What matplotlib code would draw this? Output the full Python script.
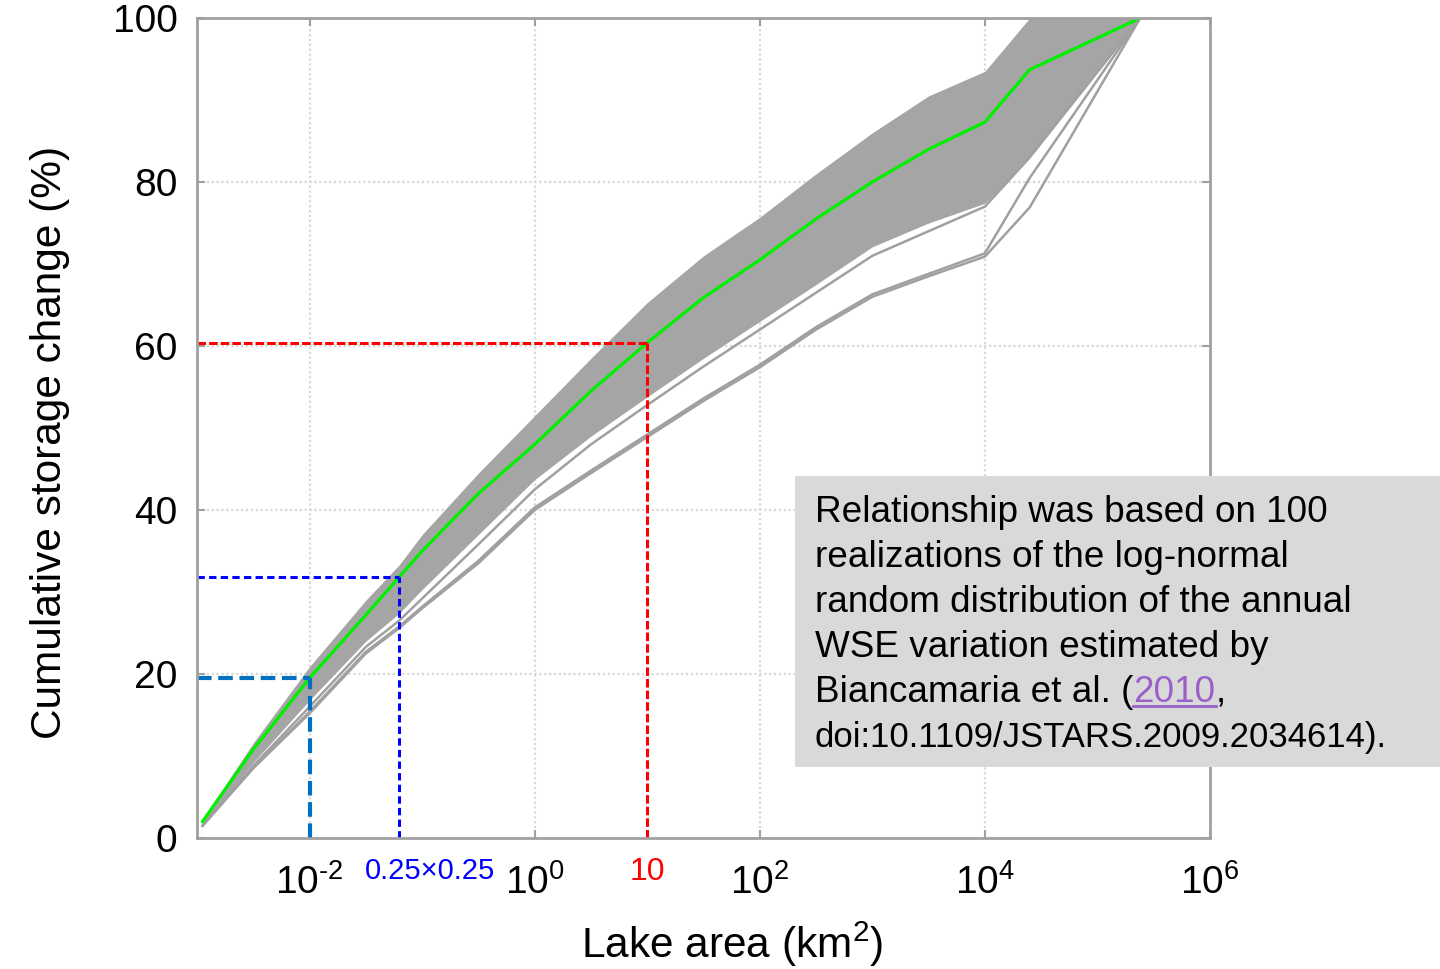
import matplotlib
matplotlib.use('Agg')
import matplotlib.pyplot as plt
from matplotlib.patches import Rectangle
from matplotlib.lines import Line2D
from matplotlib.transforms import ScaledTranslation

plt.rcParams['font.family'] = ['Liberation Sans', 'DejaVu Sans']
plt.rcParams['mathtext.fontset'] = 'custom'
plt.rcParams['mathtext.rm'] = 'Liberation Sans'
plt.rcParams['mathtext.it'] = 'Liberation Sans:italic'
plt.rcParams['mathtext.bf'] = 'Liberation Sans:bold'

# ---------------- data ----------------
lake_area = [1.12e-3, 3.16e-3, 1e-2, 3.16e-2, 6.25e-2, 0.1, 0.316, 1, 3.16, 10,
             31.6, 100, 316, 1000, 3160, 1e4, 2.5e4, 2.4e5]
median_pct = [2.0, 10.8, 19.5, 27.2, 31.8, 35.0, 42.0, 48.0, 54.5, 60.4,
              65.9, 70.5, 75.5, 80.0, 84.0, 87.3, 93.7, 100]
band_upper = [2.3, 11.6, 20.9, 29.0, 33.3, 37.0, 44.5, 51.5, 58.5, 65.3,
              71.0, 75.7, 81.0, 86.0, 90.5, 93.5, 100, 100]
band_lower = [1.6, 9.2, 16.8, 24.0, 27.4, 30.3, 37.0, 43.7, 49.0, 53.8,
              58.5, 63.0, 67.5, 72.1, 75.0, 77.4, 83.0, 100]
outlier_low = [1.5, 8.5, 15.2, 22.5, 25.6, 28.0, 33.5, 40.0, 44.5, 48.9,
               53.3, 57.4, 62.0, 66.0, 68.5, 70.9, 76.9, 100]
outlier_alt = [1.5, 8.6, 15.4, 22.7, 25.8, 28.2, 33.8, 40.3, 44.8, 49.2,
               53.6, 57.7, 62.3, 66.3, 68.8, 71.3, 80.5, 100]
outlier_mid = [1.5, 8.8, 16.0, 23.3, 26.5, 29.2, 35.8, 42.5, 48.0, 52.8,
               57.5, 62.0, 66.5, 71.0, 74.0, 77.0, 83.0, 100]

marker_area = [0.01, 0.0625, 10]
marker_pct = [19.5, 31.8, 60.4]
marker_colors = ['#0070c0', '#0000ff', '#ff0000']

major_xticks = [1e-2, 1, 1e2, 1e4, 1e6]
major_xlabels = ['$\\mathregular{10^{\u2010' + '2}}$', '$\\mathregular{10^{0}}$',
                 '$\\mathregular{10^{2}}$', '$\\mathregular{10^{4}}$',
                 '$\\mathregular{10^{6}}$']
minor_xticks = [0.0625, 10]
minor_xlabels = ['0.25\u00d70.25', '10']
minor_label_colors = ['#0000ff', '#ff0000']
yticks = [0, 20, 40, 60, 80, 100]
grid_x = [1e-2, 1, 1e2, 1e4]
grid_y = [20, 40, 60, 80]

# ---------------- figure ----------------
fig = plt.figure(figsize=(14.4, 9.69), dpi=100)
ax = fig.add_axes([197/1440, 1 - 838/969, (1210 - 197)/1440, (838 - 18)/969])
ax.set_xscale('log')
ax.set_xlim(1e-3, 1e6)
ax.set_ylim(0, 100)

grid_kw = dict(color='#d8d8d8', lw=1.6, ls=(0, (1, 1.2)), zorder=0)
for gx in grid_x:
    ax.axvline(gx, **grid_kw)
for gy in grid_y:
    ax.axhline(gy, **grid_kw)

band_col = '#a5a5a5'
ax.fill_between(lake_area, band_lower, band_upper, color=band_col, lw=0, zorder=2)
for series in (outlier_low, outlier_alt, outlier_mid):
    ax.plot(lake_area, series, color='#a0a0a0', lw=1.8, zorder=2)
ax.plot(lake_area, median_pct, color='#00f000', lw=2.3, zorder=4)

dash_styles = [(0, (3.5, 1.6)), (0, (2.4, 1.4)), (0, (2.8, 1.0))]
dash_widths = [3.0, 2.2, 2.2]
for mx, my, mc, ds, dw in zip(marker_area, marker_pct, marker_colors, dash_styles, dash_widths):
    ax.plot([1e-3, mx], [my, my], color=mc, lw=dw, ls=ds, zorder=5)
    ax.plot([mx, mx], [0, my], color=mc, lw=dw, ls=ds, zorder=5)

frame_col = '#a0a0a0'
for sp in ax.spines.values():
    sp.set_color(frame_col)
    sp.set_linewidth(2.0)
    sp.set_zorder(6)

ax.set_xticks(major_xticks)
ax.set_xticklabels(major_xlabels)
ax.set_xticks(minor_xticks, minor=True)
ax.set_xticklabels(minor_xlabels, minor=True)
ax.set_yticks(yticks)
ax.set_yticklabels([str(v) for v in yticks])

ax.tick_params(axis='both', which='major', direction='in', length=6, width=1.5,
               color=frame_col, labelcolor='black', top=True, right=True,
               labelsize=28)
ax.tick_params(axis='x', which='major', pad=19)
ax.tick_params(axis='y', which='major', pad=14)
ax.tick_params(axis='x', which='minor', length=0, pad=14, labelsize=21, top=False)
for lab, c in zip(ax.get_xticklabels(minor=True), minor_label_colors):
    lab.set_color(c)
    if lab.get_text() == '10':
        lab.set_fontsize(23)
    else:
        lab.set_transform(lab.get_transform() + ScaledTranslation(31/100, 0, fig.dpi_scale_trans))

ax.set_ylabel('Cumulative storage change (%)', fontsize=30.5)
ax.yaxis.set_label_coords(-0.125, 0.482)
ax.set_xlabel('Lake area (km$^{\\mathregular{2}}$)', fontsize=30.5)
ax.xaxis.set_label_coords(0.528, -0.1)

# ---------------- annotation box ----------------
box = Rectangle((795/1440, 1 - 767/969), (1440 - 795)/1440, (767 - 476)/969,
                transform=fig.transFigure, facecolor='#d9d9d9', edgecolor='none', zorder=10)
fig.add_artist(box)

lines = ['Relationship was based on 100',
         'realizations of the log-normal',
         'random distribution of the annual',
         'WSE variation estimated by']
x0 = 815 / 1440
baselines = [522, 567, 612, 657, 702, 747]
fs_box = 26.6
for txt, b in zip(lines, baselines[:4]):
    fig.text(x0, 1 - b/969, txt, fontsize=fs_box, va='baseline', ha='left', zorder=11)

fig.canvas.draw()
renderer = fig.canvas.get_renderer()
t1 = fig.text(x0, 1 - baselines[4]/969, 'Biancamaria et al. (', fontsize=fs_box,
              va='baseline', ha='left', zorder=11)
bb1 = t1.get_window_extent(renderer)
x1 = bb1.x1 / fig.bbox.width
t2 = fig.text(x1, 1 - baselines[4]/969, '2010', fontsize=fs_box, color='#9a5fc8',
              va='baseline', ha='left', zorder=11)
bb2 = t2.get_window_extent(renderer)
x2 = bb2.x1 / fig.bbox.width
fig.text(x2, 1 - baselines[4]/969, ',', fontsize=fs_box, va='baseline', ha='left', zorder=11)
uy = 1 - (baselines[4] + 4) / 969
fig.add_artist(Line2D([x1, x2], [uy, uy], transform=fig.transFigure,
                      color='#9a5fc8', lw=2.0, zorder=11))
fig.text(x0, 1 - baselines[5]/969, 'doi:10.1109/JSTARS.2009.2034614).', fontsize=25,
         va='baseline', ha='left', zorder=11)

fig.savefig('out.png', dpi=100)
